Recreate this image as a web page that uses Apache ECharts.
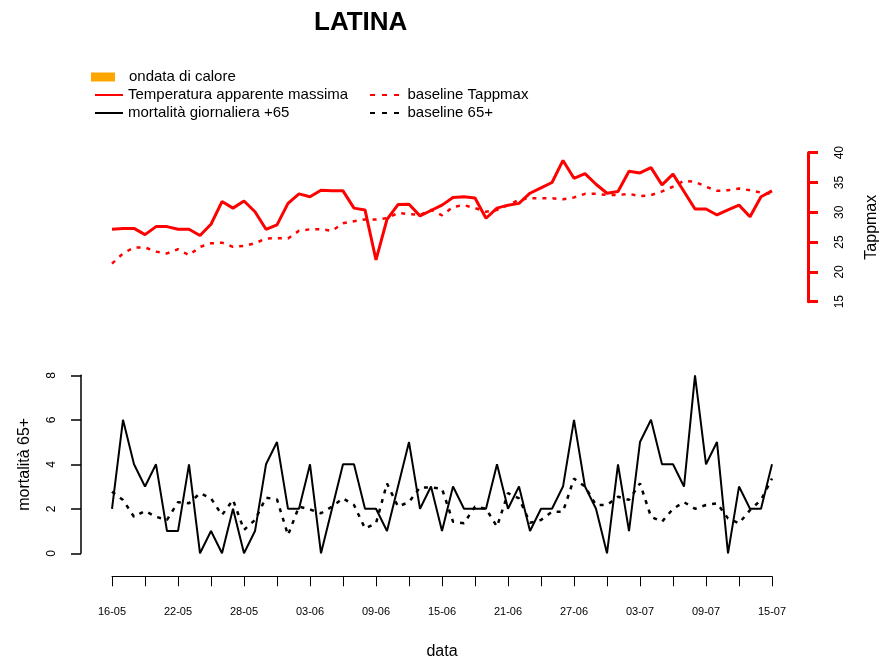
<!DOCTYPE html>
<html><head><meta charset="utf-8">
<script src="https://cdn.jsdelivr.net/npm/echarts@6/dist/echarts.min.js"></script>
<style>html,body{margin:0;padding:0;background:#fff}#c{width:885px;height:658px}</style>
</head><body><div id="c"></div>
<script>
const dates = ['16-05','17-05','18-05','19-05','20-05','21-05','22-05','23-05','24-05','25-05','26-05','27-05','28-05','29-05','30-05','31-05',
'01-06','02-06','03-06','04-06','05-06','06-06','07-06','08-06','09-06','10-06','11-06','12-06','13-06','14-06','15-06','16-06','17-06','18-06','19-06','20-06','21-06','22-06','23-06','24-06','25-06','26-06','27-06','28-06','29-06','30-06',
'01-07','02-07','03-07','04-07','05-07','06-07','07-07','08-07','09-07','10-07','11-07','12-07','13-07','14-07','15-07'];
const tappmax = [27.15,27.3,27.3,26.25,27.6,27.6,27.15,27.15,26.1,28.0,
31.8,30.7,31.9,30.1,27.15,27.9,31.5,33.1,32.6,33.7,
33.6,33.6,30.7,30.4,22.0,28.8,31.3,31.35,29.4,30.3,
31.2,32.5,32.6,32.4,29.0,30.7,31.2,31.5,33.2,34.1,
35.0,38.7,35.7,36.5,34.7,33.2,33.5,36.9,36.6,37.5,
34.6,36.4,33.5,30.55,30.55,29.55,30.4,31.2,29.25,32.6,33.6];
const baseTappmax = [21.4,23.1,24.1,24.1,23.4,23.1,23.8,22.8,24.2,24.8,
24.9,24.2,24.35,24.8,25.6,25.65,25.6,26.9,27.15,27.15,
26.9,28.15,28.5,28.8,28.8,29.0,29.9,29.7,29.55,30.4,
29.5,30.9,31.2,30.7,30.1,30.4,31.2,32.1,32.35,32.35,
32.35,32.2,32.5,33.1,33.1,32.9,32.9,33.1,32.7,32.9,
33.5,34.3,35.3,35.1,34.3,33.6,33.7,34.0,33.7,33.3,33.1];
const mort65 = [2,6,4,3,4,1,1,4,0,1,
0,2,0,1,4,5,2,2,4,0,
2,4,4,2,2,1,3,5,2,3,
1,3,2,2,2,4,2,3,1,2,
2,3,6,3,2,0,4,1,5,6,
4,4,3,8,4,5,0,3,2,2,4];
const base65 = [2.77,2.4,1.64,1.9,1.64,1.5,2.3,2.25,2.7,2.47,
1.72,2.4,1.05,1.5,2.5,2.42,0.82,2.1,1.97,1.8,
2.1,2.47,2.17,1.12,1.35,3.14,2.1,2.3,2.96,2.96,
2.9,1.42,1.35,2.1,2.0,1.2,2.7,2.47,1.37,1.5,
1.87,1.87,3.36,3.0,2.17,2.17,2.54,2.4,3.14,1.64,
1.42,2.0,2.3,2.0,2.17,2.25,1.57,1.35,1.94,2.4,3.36];

const FONT = '"Liberation Sans", Arial, sans-serif';
const DOTTED_ICON = 'path://M0,0h5v2h-5z M12,0h5v2h-5z M24,0h5v2h-5z';
const legendText = {fontSize:15, lineHeight:18, color:'#000', fontFamily:FONT};
const chart = echarts.init(document.getElementById('c'), null, {renderer:'canvas'});
chart.setOption({
  animation:false,
  backgroundColor:'#fff',
  textStyle:{fontFamily:FONT},
  title:{text:'LATINA', left:309, top:5, textStyle:{fontSize:26, fontWeight:'bold', color:'#000', fontFamily:FONT}},
  legend:[
    {left:86, top:63, orient:'vertical', itemGap:0, itemWidth:24, itemHeight:9, itemStyle:{borderWidth:0},
     textStyle:Object.assign({}, legendText, {padding:[0,0,0,9]}), data:[{name:'ondata di calore', icon:'rect'}]},
    {left:90, top:81, orient:'vertical', itemGap:0, itemWidth:28, itemHeight:2, itemStyle:{borderWidth:0},
     textStyle:legendText, data:[{name:'Temperatura apparente massima', icon:'rect'},{name:'mortalità giornaliera +65', icon:'rect'}]},
    {left:365, top:81, orient:'vertical', itemGap:0, itemWidth:32, itemHeight:2, itemStyle:{borderWidth:0},
     textStyle:Object.assign({}, legendText, {padding:[0,0,0,2]}), data:[{name:'baseline Tappmax', icon:DOTTED_ICON},{name:'baseline 65+', icon:DOTTED_ICON}]}
  ],
  grid:[
    {left:112, right:113, top:152.7, height:149, outerBoundsMode:'none', containLabel:false},
    {left:112, right:113, top:375.3, height:178, outerBoundsMode:'none', containLabel:false}
  ],
  xAxis:[
    {gridIndex:0, type:'category', data:dates, boundaryGap:false, show:false},
    {gridIndex:1, type:'category', data:dates, boundaryGap:false, position:'bottom', offset:23,
     axisLine:{onZero:false, lineStyle:{color:'#000', width:1}},
     axisTick:{interval:2, length:10, lineStyle:{color:'#000', width:1}},
     axisLabel:{interval:5, fontSize:11, color:'#000', margin:30, fontFamily:FONT},
     name:'data', nameLocation:'middle', nameGap:67,
     nameTextStyle:{fontSize:16, color:'#000', fontFamily:FONT}}
  ],
  yAxis:[
    {gridIndex:0, type:'value', min:15, max:40, interval:5, position:'right', offset:36,
     axisLine:{show:true, lineStyle:{color:'#ff0000', width:3}},
     axisTick:{show:true, length:10, lineStyle:{color:'#ff0000', width:3}},
     axisLabel:{rotate:90, fontSize:12, color:'#000', margin:26, fontFamily:FONT},
     splitLine:{show:false},
     name:'Tappmax', nameLocation:'middle', nameRotate:90, nameGap:56,
     nameTextStyle:{fontSize:16, color:'#000', fontFamily:FONT}},
    {gridIndex:1, type:'value', min:0, max:8, interval:2, position:'left', offset:31,
     axisLine:{show:true, lineStyle:{color:'#000', width:1.5}},
     axisTick:{show:true, length:10, lineStyle:{color:'#000', width:1.5}},
     axisLabel:{rotate:90, fontSize:12, color:'#000', margin:23, fontFamily:FONT},
     splitLine:{show:false},
     name:'mortalità 65+', nameLocation:'middle', nameRotate:90, nameGap:48,
     nameTextStyle:{fontSize:16, color:'#000', fontFamily:FONT}}
  ],
  series:[
    {name:'ondata di calore', type:'bar', xAxisIndex:0, yAxisIndex:0, data:[], itemStyle:{color:'#FFA500'}},
    {name:'Temperatura apparente massima', type:'line', xAxisIndex:0, yAxisIndex:0, data:tappmax,
     symbol:'none', lineStyle:{color:'#ff0000', width:3}, itemStyle:{color:'#ff0000'}},
    {name:'baseline Tappmax', type:'line', xAxisIndex:0, yAxisIndex:0, data:baseTappmax,
     symbol:'none', lineStyle:{color:'#ff0000', width:2.5, type:[4,6]}, itemStyle:{color:'#ff0000'}},
    {name:'mortalità giornaliera +65', type:'line', xAxisIndex:1, yAxisIndex:1, data:mort65,
     symbol:'none', lineStyle:{color:'#000', width:2}, itemStyle:{color:'#000'}},
    {name:'baseline 65+', type:'line', xAxisIndex:1, yAxisIndex:1, data:base65,
     symbol:'none', lineStyle:{color:'#000', width:2.5, type:[4,6]}, itemStyle:{color:'#000'}}
  ]
});
</script></body></html>
